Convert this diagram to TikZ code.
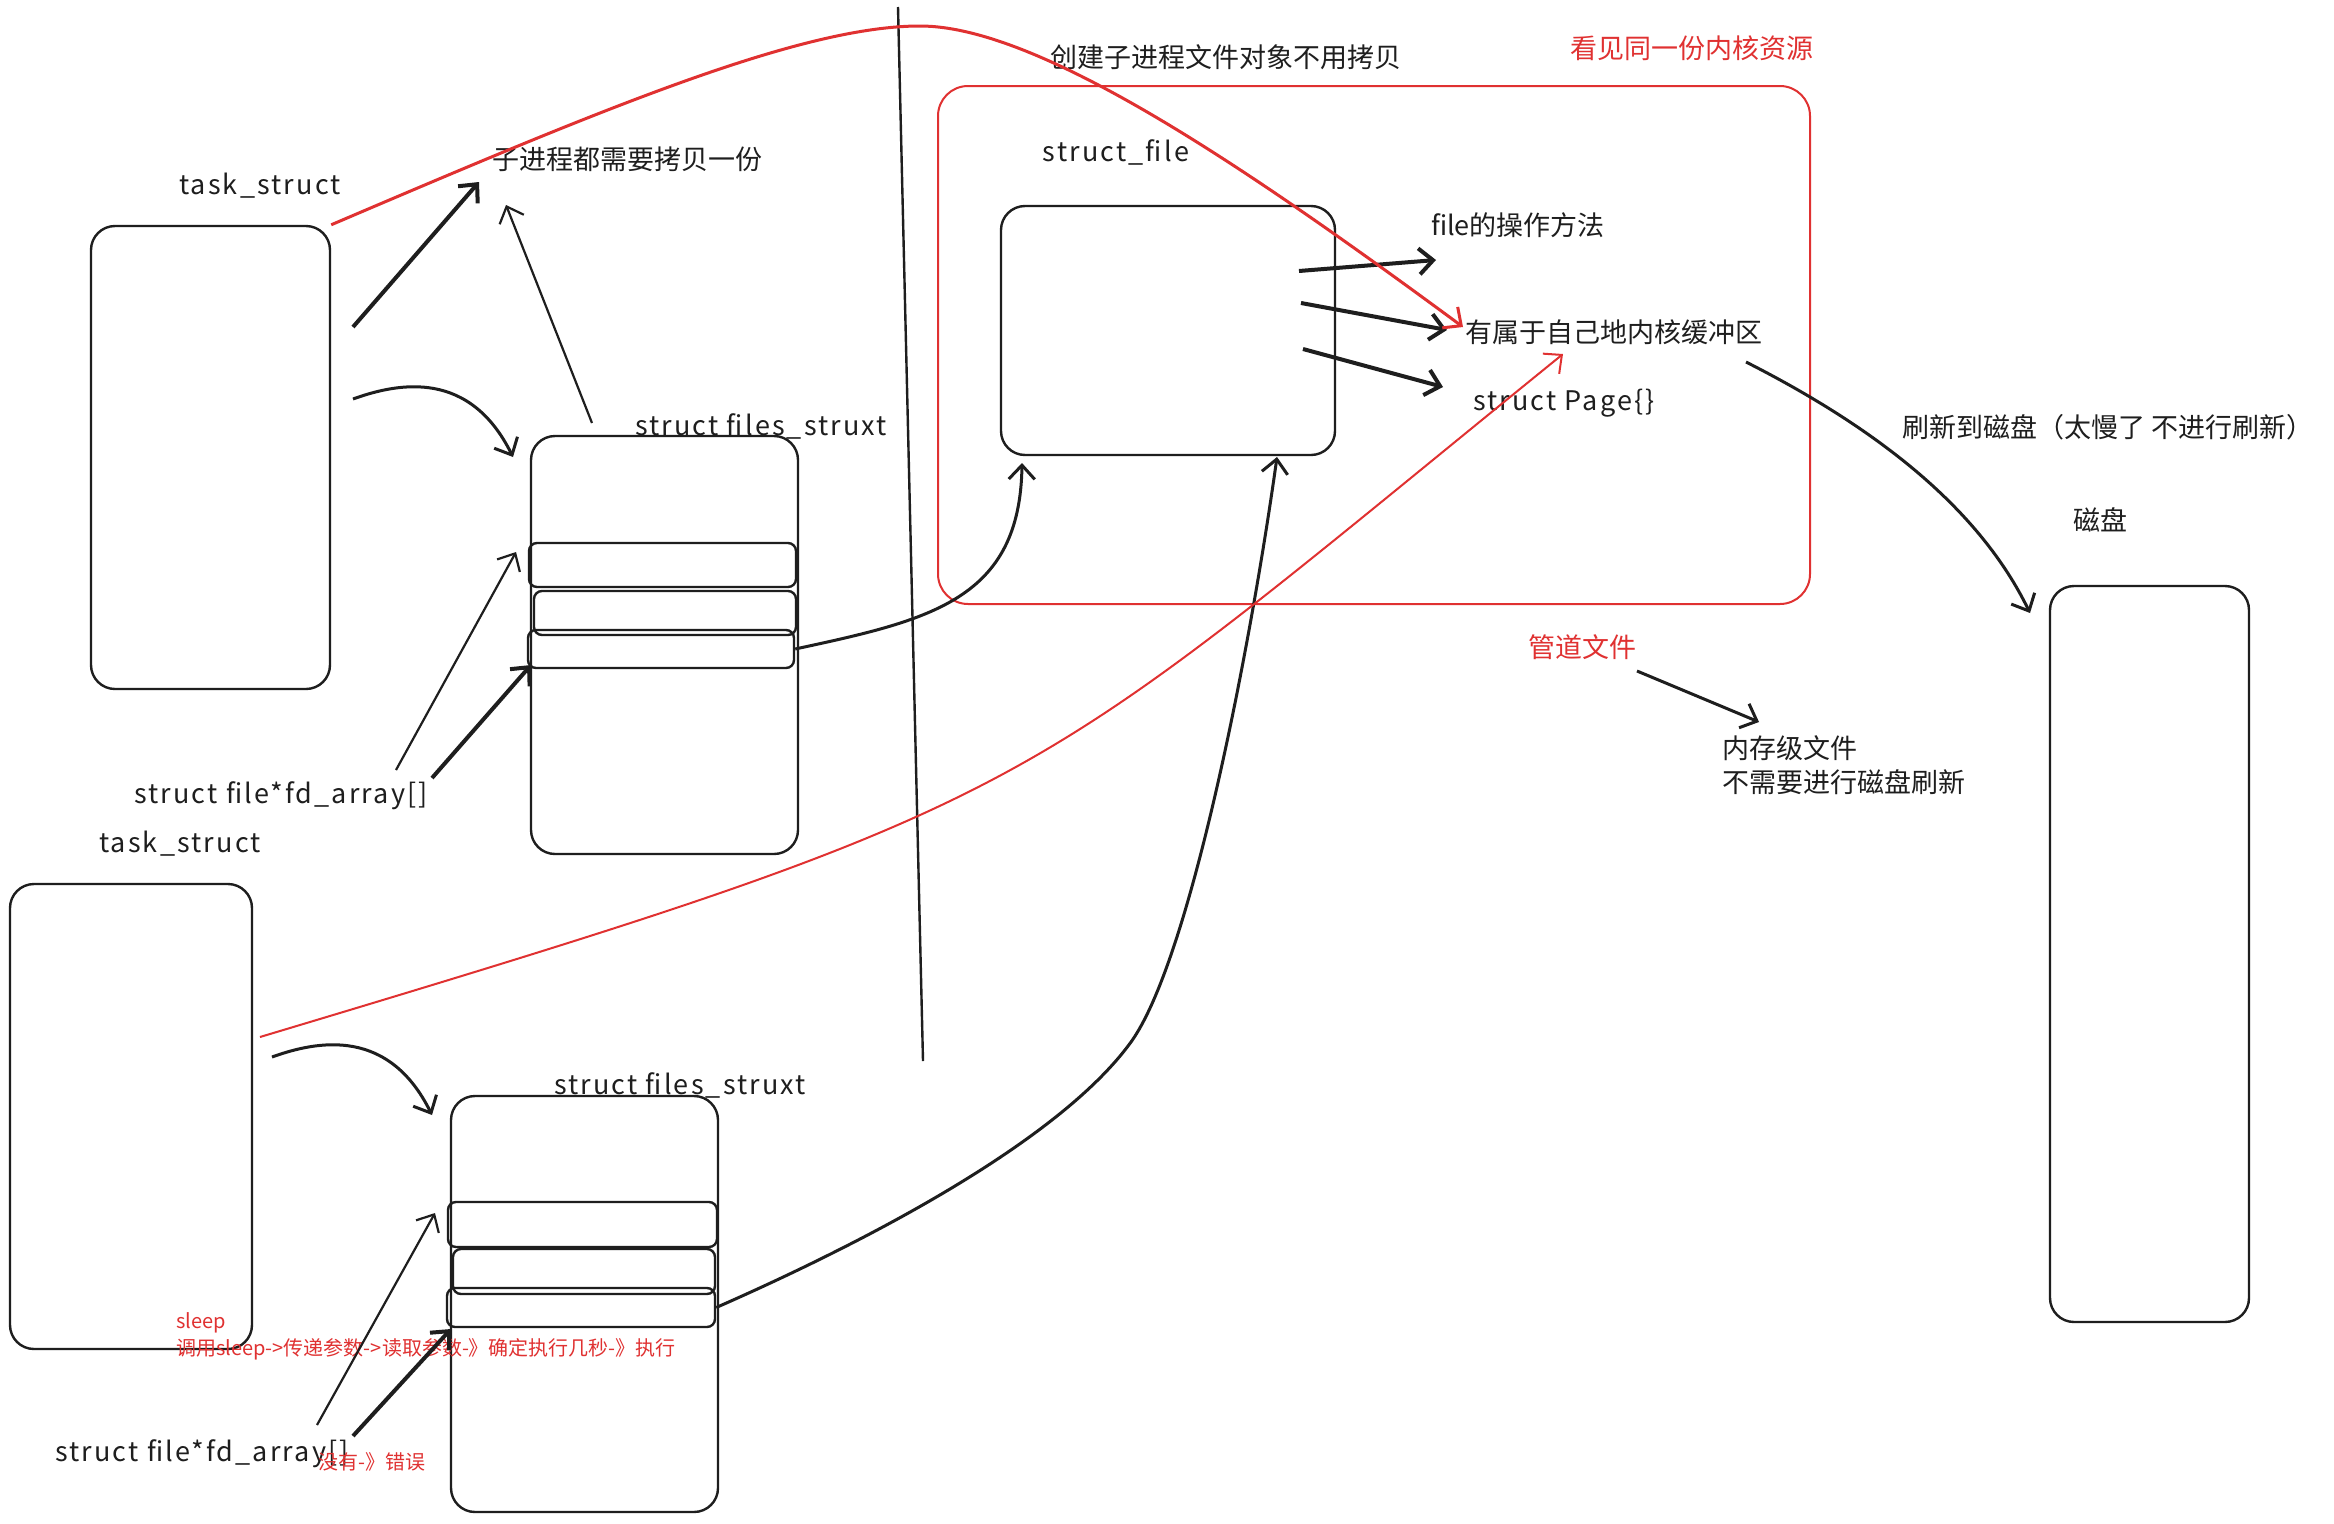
\documentclass[tikz,border=0pt]{standalone}
\usepackage{fontspec}
\setmainfont{Noto Sans CJK SC}
\newfontfamily\latinfont[LetterSpace=8]{Noto Sans CJK SC}
\usetikzlibrary{arrows.meta}
\definecolor{ink}{HTML}{1E1E1E}
\definecolor{xred}{HTML}{E03131}
\begin{document}
\begin{tikzpicture}[x=1pt,y=-1pt,
  box/.style={draw=ink,line width=2.4pt,rounded corners=24pt,inner sep=0pt},
  slot/.style={draw=ink,line width=2.4pt,rounded corners=8pt,inner sep=0pt},
  lbl/.style={text=ink,font=\fontsize{27}{33}\selectfont,inner sep=0pt},
  llbl/.style={text=ink,font=\latinfont\fontsize{27}{33}\selectfont,inner sep=0pt},
  rlbl/.style={text=xred,font=\fontsize{27}{33}\selectfont,inner sep=0pt},
  small/.style={text=xred,font=\fontsize{20}{24}\selectfont,inner sep=0pt,anchor=west},
  tip/.style={-{Straight Barb[length=14pt,width=26pt]}},
  thinarr/.style={draw=ink,line width=2.2pt,tip},
  midarr/.style={draw=ink,line width=3pt,tip},
  thickarr/.style={draw=ink,line width=4pt,tip},
  redarr/.style={draw=xred,line width=3pt,tip},
]
\fill[white] (0,0) rectangle (2334,1523);
\useasboundingbox (0,0) rectangle (2334,1523);

% ---------- boxes ----------
\node[box,minimum width=239pt,minimum height=463pt] (task1) at (210.5,457.5) {};
\node[box,minimum width=267pt,minimum height=418pt] (files1) at (664.5,645) {};
\node[slot,minimum width=267pt,minimum height=44pt] (f1s1) at (662.5,565) {};
\node[slot,minimum width=262pt,minimum height=44pt] (f1s2) at (665,613) {};
\node[slot,minimum width=266pt,minimum height=38pt] (f1s3) at (661,649) {};

\node[box,minimum width=242pt,minimum height=465pt] (task2) at (131,1116.5) {};
\node[box,minimum width=267pt,minimum height=416pt] (files2) at (584.5,1304) {};
\node[slot,minimum width=269pt,minimum height=45pt] (f2s1) at (582.5,1224.5) {};
\node[slot,minimum width=262pt,minimum height=45pt] (f2s2) at (584,1271.5) {};
\node[slot,minimum width=268pt,minimum height=39pt] (f2s3) at (581,1307.5) {};

\node[draw=xred,line width=2pt,rounded corners=30pt,inner sep=0pt,minimum width=872pt,minimum height=518pt] (redbox) at (1374,345) {};
\node[box,minimum width=334pt,minimum height=249pt] (sfile) at (1168,330.5) {};
\node[box,minimum width=199pt,minimum height=736pt] (disk) at (2149.5,954) {};

% ---------- labels ----------
\node[llbl] (l_task1) at (260,186) {task\_struct};
\node[lbl] (l_copy) at (627,159) {子进程都需要拷贝一份};
\node[llbl] (l_files1) at (761,426) {struct files\_struxt};
\node[llbl] (l_fd1) at (281,796) {struct file*fd\_array[]};
\node[llbl] (l_task2) at (180,844) {task\_struct};
\node[llbl] (l_files2) at (680,1085) {struct files\_struxt};
\node[llbl] (l_fd2) at (202,1454) {struct file*fd\_array[]};
\node[lbl] (l_nocopy) at (1226,57) {创建子进程文件对象不用拷贝};
\node[rlbl] (l_same) at (1692,48) {看见同一份内核资源};
\node[llbl] (l_sfile) at (1116,152) {struct\_file};
\node[lbl] (l_ops) at (1518,225) {file的操作方法};
\node[lbl] (l_buf) at (1614,332) {有属于自己地内核缓冲区};
\node[llbl] (l_page) at (1564,403) {struct Page\{\}};
\node[lbl] (l_flush) at (2108,427) {刷新到磁盘（太慢了 不进行刷新）};
\node[lbl] (l_disk) at (2100,520) {磁盘};
\node[rlbl] (l_pipe) at (1582,647) {管道文件};
\node[lbl,align=left,anchor=north west,font=\fontsize{27}{34}\selectfont] (l_mem) at (1722,735) {内存级文件\\不需要进行磁盘刷新};
\node[small] (l_sleep) at (176,1323) {sleep};
\node[small] (l_call) at (176,1349) {调用sleep->传递参数->读取参数-》确定执行几秒-》执行};
\node[small] (l_err) at (318,1462) {没有-》错误};

% ---------- free ends ----------
\coordinate (a1s) at (353,327);
\coordinate (a1e) at (479,182);
\coordinate (a2s) at (592,423);
\coordinate (a2e) at (506,205);
\coordinate (a3s) at (353,399);
\coordinate (a3e) at (513,457);
\coordinate (a5s) at (396,770);
\coordinate (a5e) at (516,552);
\coordinate (a6s) at (432,778);
\coordinate (a6e) at (531,665);
\coordinate (a7s) at (272,1057);
\coordinate (a7e) at (432,1115);
\coordinate (a9s) at (317,1425);
\coordinate (a9e) at (435,1213);
\coordinate (a10s) at (353,1436);
\coordinate (a10e) at (451,1329);
\coordinate (sfb1) at (1022,463);
\coordinate (sfb2) at (1277,457);
\coordinate (o1s) at (1299,271);
\coordinate (o1e) at (1436,260);
\coordinate (o2s) at (1301,303);
\coordinate (o2e) at (1447,330);
\coordinate (o3s) at (1303,349);
\coordinate (o3e) at (1443,387);
\coordinate (bufr) at (1746,362);
\coordinate (diskin) at (2030,613);
\coordinate (pipes) at (1637,671);
\coordinate (pipee) at (1759,722);
\coordinate (redtip1) at (1463,327);
\coordinate (redtip2) at (1563,354);
\coordinate (b2s) at (260,1037);
\coordinate (vtop) at (898,7);
\coordinate (vbot) at (923,1061);

% ---------- divider ----------
\draw[ink,line width=2.4pt] (vtop) -- (vbot);

% ---------- connectors ----------
\draw[thickarr] (a1s) -- (a1e);
\draw[thinarr] (a2s) -- (a2e);
\draw[midarr] (a3s) .. controls (400,382) and (470,370) .. (a3e);
\draw[midarr] (f1s3.east) .. controls (930,620) and (1020,600) .. (sfb1);
\draw[thinarr] (a5s) -- (a5e);
\draw[thickarr] (a6s) -- (a6e);
\draw[midarr] (a7s) .. controls (319,1040) and (389,1028) .. (a7e);
\draw[thinarr] (a9s) -- (a9e);
\draw[thickarr] (a10s) -- (a10e);
\draw[midarr] (f2s3.east) .. controls (870,1240) and (1060,1140) .. (1131,1042)
  .. controls (1190,960) and (1250,650) .. (sfb2);
\draw[thickarr] (o1s) -- (o1e);
\draw[thickarr] (o2s) -- (o2e);
\draw[thickarr] (o3s) -- (o3e);
\draw[midarr] (bufr) .. controls (1880,430) and (1980,510) .. (diskin);
\draw[midarr] (pipes) -- (pipee);

% ---------- red curves ----------
\draw[redarr] (task1.north east) .. controls (600,110) and (800,26) .. (920,26)
  .. controls (1040,26) and (1250,170) .. (redtip1);
\draw[redarr,line width=2pt] (b2s) .. controls (1060,797) and (1013,800) .. (redtip2);
\end{tikzpicture}
\end{document}
